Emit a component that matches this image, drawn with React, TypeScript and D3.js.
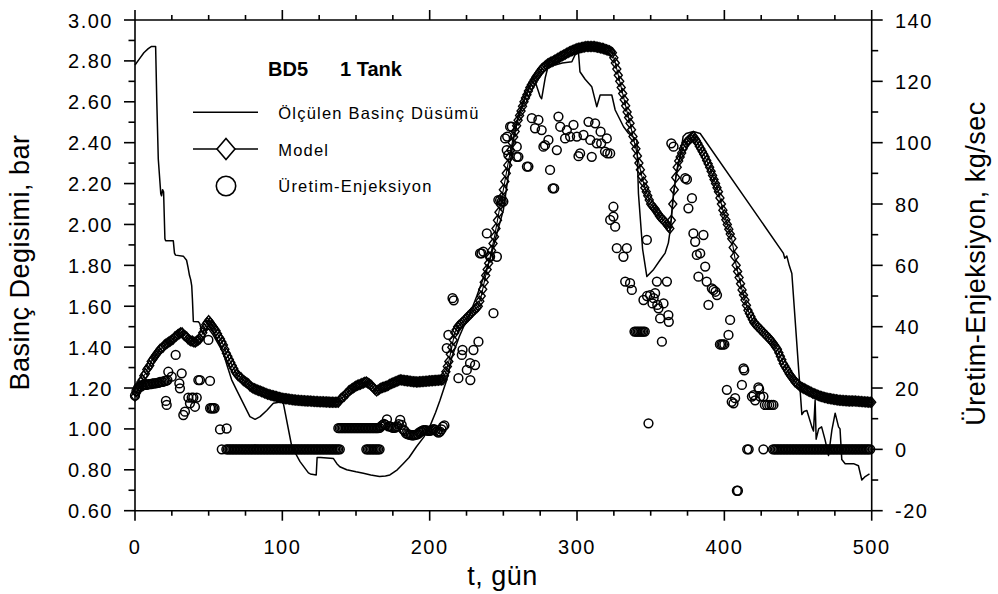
import React from 'react';
import * as d3 from 'd3';

// ---------- axis ticks ----------
const xMajorTicks = [0, 100, 200, 300, 400, 500];
const leftMajorTicks = [0.6, 0.8, 1.0, 1.2, 1.4, 1.6, 1.8, 2.0, 2.2, 2.4, 2.6, 2.8, 3.0];
const rightMajorTicks = [-20, 0, 20, 40, 60, 80, 100, 120, 140];

// ---------- measured pressure drop (t [day], bar) ----------
const measured: [number, number][] = [
  [0, 2.78], [3, 2.81], [6, 2.84], [9, 2.86], [11, 2.87], [14, 2.87], [14.8, 2.6], [15.8, 2.32],
  [17.5, 2.15], [18, 2.14], [18.7, 2.17], [19.4, 2.16], [20.3, 1.93], [20.8, 1.92], [26, 1.92],
  [26.8, 1.86], [27.5, 1.85], [32.8, 1.845], [35, 1.825], [36, 1.79], [37, 1.75], [37.8, 1.73],
  [38.5, 1.7], [39, 1.63], [39.6, 1.525], [43, 1.524], [44, 1.515], [45.3, 1.475], [47, 1.48],
  [50, 1.49], [53, 1.46], [57, 1.41], [60, 1.37], [62.5, 1.31], [65.6, 1.24], [69, 1.19],
  [73.5, 1.125], [78, 1.06], [81.5, 1.047], [84.9, 1.06], [89.4, 1.09], [93.9, 1.125], [99.6, 1.133],
  [100.7, 1.125], [106.4, 0.914], [112, 0.84], [117.7, 0.785], [119, 0.78], [123, 0.775],
  [123.6, 0.86], [126, 0.86], [134.7, 0.855], [137, 0.83], [139, 0.815], [143.7, 0.8], [150, 0.79],
  [155, 0.783], [160, 0.775], [166, 0.767], [170, 0.77], [173, 0.775], [178, 0.8], [182, 0.83],
  [186, 0.86], [191, 0.913], [196, 0.96], [200, 1.01], [204, 1.08], [207, 1.14], [211.6, 1.24],
  [215, 1.35], [220, 1.45], [223, 1.5], [227.4, 1.566], [232, 1.65], [236, 1.73], [241, 1.83],
  [245, 1.94], [250, 2.07], [254.6, 2.3], [257, 2.42], [260, 2.53], [265, 2.63], [270.5, 2.723],
  [275, 2.625], [276, 2.615], [278.5, 2.72], [281.7, 2.81], [285.1, 2.78], [290, 2.79],
  [296.5, 2.796], [298.7, 2.83], [301, 2.84], [302, 2.747], [305.5, 2.71], [310, 2.674],
  [313.4, 2.576], [315.7, 2.633], [323.6, 2.633], [325.9, 2.56], [331.6, 2.478], [334.9, 2.446],
  [340.6, 2.413], [341.7, 2.15], [344.5, 1.88], [347.4, 1.745], [352, 1.78], [356.4, 1.826],
  [359.8, 1.86], [362, 1.91], [363.2, 1.97], [365.4, 2.15], [367.5, 2.25], [370, 2.33],
  [372, 2.43], [374, 2.445], [379, 2.455], [383.6, 2.445], [440, 1.86], [441, 1.835],
  [442.4, 1.845], [444, 1.8], [445.8, 1.76], [452.6, 1.07], [454, 1.085], [456, 1.09],
  [459.4, 1.01], [460.5, 0.99], [461.6, 1.14], [462.3, 0.95], [464, 1.0], [466, 1.01],
  [468.4, 0.945], [470.7, 0.87], [473, 0.995], [475.2, 1.077], [477.5, 1.01], [478.5, 1.0],
  [479.7, 0.85], [482, 0.83], [487.7, 0.83], [491, 0.82], [493.3, 0.75], [495.6, 0.767],
  [498.5, 0.78],
];

// ---------- model (one value per day, t = 0..500, bar) ----------
const modelDaily = [
  1.16, 1.18, 1.19, 1.21, 1.23, 1.24, 1.26, 1.27, 1.29, 1.30,
  1.31, 1.33, 1.34, 1.35, 1.36, 1.37, 1.38, 1.39, 1.395, 1.40,
  1.41, 1.415, 1.42, 1.425, 1.43, 1.435, 1.44, 1.45, 1.455, 1.46,
  1.465, 1.47, 1.47, 1.46, 1.455, 1.45, 1.44, 1.435, 1.43, 1.43,
  1.425, 1.425, 1.43, 1.435, 1.44, 1.455, 1.47, 1.49, 1.51, 1.52,
  1.53, 1.52, 1.51, 1.50, 1.49, 1.48, 1.465, 1.45, 1.44, 1.425,
  1.41, 1.39, 1.37, 1.355, 1.34, 1.325, 1.31, 1.295, 1.28, 1.27,
  1.26, 1.255, 1.25, 1.24, 1.235, 1.23, 1.225, 1.22, 1.21, 1.205,
  1.20, 1.197, 1.194, 1.19, 1.188, 1.185, 1.182, 1.179, 1.176, 1.173,
  1.17, 1.168, 1.166, 1.164, 1.162, 1.16, 1.158, 1.156, 1.154, 1.152,
  1.15, 1.149, 1.148, 1.147, 1.146, 1.145, 1.144, 1.143, 1.142, 1.141,
  1.14, 1.14, 1.139, 1.139, 1.138, 1.138, 1.137, 1.137, 1.136, 1.136,
  1.135, 1.135, 1.134, 1.134, 1.134, 1.133, 1.133, 1.133, 1.133, 1.132,
  1.132, 1.132, 1.131, 1.131, 1.131, 1.13, 1.13, 1.13, 1.13, 1.14,
  1.15, 1.155, 1.16, 1.17, 1.175, 1.185, 1.19, 1.195, 1.20, 1.205,
  1.21, 1.213, 1.216, 1.219, 1.222, 1.225, 1.228, 1.23, 1.225, 1.22,
  1.215, 1.207, 1.20, 1.192, 1.185, 1.19, 1.195, 1.20, 1.203, 1.205,
  1.207, 1.21, 1.214, 1.218, 1.222, 1.225, 1.228, 1.231, 1.234, 1.237,
  1.24, 1.239, 1.238, 1.237, 1.236, 1.235, 1.234, 1.233, 1.232, 1.231,
  1.231, 1.23, 1.23, 1.231, 1.231, 1.232, 1.232, 1.233, 1.233, 1.234,
  1.235, 1.236, 1.236, 1.237, 1.237, 1.238, 1.238, 1.239, 1.239, 1.24,
  1.26, 1.28, 1.305, 1.33, 1.365, 1.40, 1.435, 1.47, 1.485, 1.50,
  1.507, 1.513, 1.52, 1.527, 1.535, 1.542, 1.55, 1.557, 1.565, 1.572,
  1.58, 1.587, 1.593, 1.60, 1.625, 1.65, 1.683, 1.717, 1.75, 1.78,
  1.81, 1.84, 1.873, 1.907, 1.94, 1.98, 2.02, 2.06, 2.097, 2.133,
  2.17, 2.21, 2.25, 2.29, 2.327, 2.363, 2.40, 2.428, 2.455, 2.483,
  2.51, 2.533, 2.555, 2.578, 2.60, 2.618, 2.635, 2.653, 2.67, 2.683,
  2.695, 2.708, 2.72, 2.73, 2.74, 2.75, 2.76, 2.766, 2.773, 2.779,
  2.785, 2.789, 2.793, 2.796, 2.80, 2.804, 2.808, 2.813, 2.817, 2.821,
  2.825, 2.829, 2.833, 2.837, 2.841, 2.845, 2.848, 2.851, 2.854, 2.857,
  2.86, 2.862, 2.863, 2.865, 2.867, 2.868, 2.87, 2.87, 2.87, 2.87,
  2.87, 2.87, 2.87, 2.868, 2.867, 2.865, 2.863, 2.862, 2.86, 2.857,
  2.855, 2.852, 2.85, 2.845, 2.84, 2.815, 2.79, 2.76, 2.73, 2.70,
  2.67, 2.64, 2.61, 2.58, 2.55, 2.523, 2.495, 2.463, 2.43, 2.40,
  2.37, 2.335, 2.30, 2.268, 2.235, 2.208, 2.18, 2.16, 2.14, 2.12,
  2.10, 2.092, 2.083, 2.075, 2.063, 2.052, 2.04, 2.033, 2.025, 2.018,
  2.01, 2.00, 1.99, 1.98, 2.02, 2.10, 2.17, 2.23, 2.28, 2.31,
  2.33, 2.35, 2.37, 2.385, 2.40, 2.407, 2.413, 2.42, 2.425, 2.43,
  2.42, 2.41, 2.397, 2.383, 2.37, 2.357, 2.343, 2.33, 2.313, 2.297,
  2.28, 2.26, 2.24, 2.22, 2.20, 2.18, 2.16, 2.13, 2.10, 2.07,
  2.047, 2.023, 2.00, 1.977, 1.953, 1.93, 1.887, 1.843, 1.80, 1.77,
  1.74, 1.71, 1.68, 1.655, 1.63, 1.605, 1.58, 1.565, 1.55, 1.535,
  1.52, 1.513, 1.505, 1.498, 1.49, 1.483, 1.475, 1.468, 1.46, 1.453,
  1.445, 1.438, 1.43, 1.42, 1.41, 1.40, 1.39, 1.373, 1.355, 1.338,
  1.32, 1.308, 1.295, 1.283, 1.27, 1.26, 1.25, 1.24, 1.23, 1.224,
  1.218, 1.211, 1.205, 1.201, 1.198, 1.194, 1.19, 1.186, 1.183, 1.179,
  1.175, 1.172, 1.169, 1.166, 1.163, 1.16, 1.158, 1.156, 1.154, 1.152,
  1.15, 1.149, 1.148, 1.146, 1.145, 1.144, 1.143, 1.141, 1.14, 1.14,
  1.139, 1.139, 1.138, 1.138, 1.137, 1.137, 1.137, 1.136, 1.136, 1.136,
  1.135, 1.135, 1.134, 1.134, 1.133, 1.133, 1.132, 1.132, 1.131, 1.131, 1.13,
];

// ---------- production-injection (kg/sec), daily runs: first day + values ----------
const prodEarlyStart = 0;
const prodEarly = [17.5, 19, 20, 20.5, 20.5, 21, 21, 21, 21, 21.3, 21.3, 21.3, 21.5, 21.5, 21.5, 21.7, 21.7, 22, 22, 22, 22.3, 22.3, 22.6];
const prodZeroAStart = 62;
const prodZeroA = [
  0, 0, 0, 0, 0, 0, 0, 0, 0, 0, 0, 0, 0, 0, 0, 0, 0, 0, 0, 0,
  0, 0, 0, 0, 0, 0, 0, 0, 0, 0, 0, 0, 0, 0, 0, 0, 0, 0, 0, 0,
  0, 0, 0, 0, 0, 0, 0, 0, 0, 0, 0, 0, 0, 0, 0, 0, 0, 0, 0, 0,
  0, 0, 0, 0, 0, 0, 0, 0, 0, 0, 0, 0, 0, 0, 0, 0, 0, 0,
];
const prodLowStart = 138;
const prodLow = [6.9, 6.9, 6.9, 6.9, 6.9, 6.9, 6.9, 6.9, 6.9, 6.9, 6.9, 6.9, 6.9, 6.9, 6.9, 6.9, 6.9, 6.9, 6.9, 6.9, 6.9, 6.9, 6.9, 6.9, 6.9, 6.9, 6.9];
const prodZeroBStart = 157;
const prodZeroB = [0, 0, 0, 0, 0, 0, 0, 0, 0, 0];
const prodWaveStart = 165;
const prodWave = [
  6.9, 7.0, 7.5, 7.9, 8.3, 8.0, 9.8, 7.5, 7.5, 7.3,
  7.0, 7.0, 7.2, 7.5, 8.2, 9.6, 8.0, 6.5, 6.0, 5.2,
  5.0, 4.8, 4.7, 4.6, 4.6, 4.7, 4.8, 5.0, 5.5, 5.8,
  6.1, 6.3, 6.3, 6.2, 6.0, 6.0, 6.2, 6.5, 6.6, 6.3,
  5.8, 5.5, 5.8, 6.5, 7.4, 7.8,
];
const prodZeroCStart = 433;
const prodZeroC = [
  0, 0, 0, 0, 0, 0, 0, 0, 0, 0, 0, 0, 0, 0, 0, 0, 0, 0, 0, 0,
  0, 0, 0, 0, 0, 0, 0, 0, 0, 0, 0, 0, 0, 0, 0, 0, 0, 0, 0, 0,
  0, 0, 0, 0, 0, 0, 0, 0, 0, 0, 0, 0, 0, 0, 0, 0, 0, 0, 0, 0,
  0, 0, 0, 0, 0, 0, 0,
];

// scattered production-injection readings (t [day], kg/sec)
const prodScatter: [number, number][] = [
  [21, 15.8], [21.5, 14.5], [22.6, 25.3], [24.9, 23.7], [27.6, 30.8], [30.1, 21.5], [30.5, 19.9],
  [31.7, 24.8], [32.8, 11.2], [33.9, 12.3], [36.2, 16.9], [37.3, 15.0], [38.5, 16.9], [39.6, 16.9],
  [40.7, 13.9], [41.9, 16.9], [43.0, 22.6], [44.1, 22.6], [49.8, 35.7], [50.9, 22.3], [51, 13.4],
  [52, 13.4], [53, 13.4], [54, 13.4], [57.7, 6.5], [58.9, 0], [62.2, 6.8],
  [211.6, 33.0], [212.7, 37.3], [215.5, 49.3], [216.3, 48.6], [219.5, 23.2], [221.8, 30.8],
  [222.3, 32.4], [225.2, 25.9], [227.4, 28.1], [227.6, 22.6], [229.7, 32.4], [230.8, 27.5],
  [233.1, 35.1], [234.2, 63.9], [235.2, 63.9], [236.4, 64.5], [238.8, 70.4], [241.0, 62.8],
  [243.3, 44.4], [245.6, 62.8], [246.6, 81.3], [247.8, 81.3], [248.9, 80.8], [250.0, 80.8],
  [251.2, 101.4], [252.3, 97.6], [252.6, 102], [253.4, 96.0], [254.6, 105.2], [255.7, 105.2],
  [259.1, 98.7], [259.1, 95.4], [260.2, 95.4], [266.0, 92.2], [267.0, 92.2],
  [269.3, 108], [271.5, 104.7], [273.8, 107.4], [276, 104.1], [277.2, 98.7], [278.3, 99.2],
  [280.6, 100.9], [281.7, 91.1], [283.5, 85.1], [284.5, 85.1], [286.3, 97.6], [287.4, 108.5],
  [288.6, 105.2], [291.9, 101.4], [293.1, 104.1], [295.3, 102], [297.6, 105.8], [299.9, 102],
  [301, 95.6], [302.1, 96.5], [304.4, 102.5], [307.8, 106.8], [309, 100.9], [310, 95.4],
  [312.3, 106.3], [313.4, 99.8], [316, 103.6], [316.4, 99.8], [319, 97.1], [320.2, 101.4],
  [320.6, 96.5], [322.5, 96.5],
  [322.5, 74.8], [324.7, 79.1], [324.7, 75.9], [325.9, 72.6], [327, 65.6], [331.5, 62.8],
  [333.8, 65.6], [332.7, 54.7], [336, 54.2], [337.2, 52], [339, 38.4], [340, 38.4], [341, 38.4],
  [342, 38.4], [343, 38.4], [344, 38.4], [345, 38.4], [346, 38.4], [345.1, 48.7], [347.4, 68.3],
  [347.5, 50], [348.5, 8.5], [349.6, 50.3], [351.2, 47.6], [352, 49.3], [353, 50.9], [354.2, 54.7],
  [354.5, 47.1], [355.3, 46], [356.4, 42.7], [357.6, 35.1], [358.7, 47.6], [361, 54.7], [362, 43.8],
  [362.3, 41.6], [364, 99.8], [365.5, 98.7], [373.4, 88.4], [374.6, 88], [375.6, 78.6],
  [378, 81.9], [379, 70.4], [380.2, 67.7], [381.3, 63.4], [382.4, 56.3], [383.6, 63.9],
  [385.8, 69.9], [387, 59.6], [388, 54.7], [389.2, 47.1], [391.5, 52.5], [392.6, 52],
  [394, 51.4], [395, 50.3], [397, 34.2], [398, 34.2], [399, 34.2], [400, 34.2],
  [401.7, 19.4], [402.8, 37.3], [403.9, 42.2], [405, 15.5], [406.2, 15], [407.3, 16.7],
  [408.5, -13.5], [409.2, -13.5], [411.9, 21], [413, 26.4], [413.5, 25.8], [415.5, 0], [416.5, 0],
  [418.7, 17.2], [419.8, 17.7], [420.9, 16], [423.1, 20.2], [423.6, 19.6], [424.3, 17.2],
  [426.5, 0], [426.5, 17.2], [427.5, 14.5], [429, 14.5], [430.5, 14.5], [432, 14.5], [433.3, 14.5],
];

const prodRuns: [number, number[]][] = [
  [prodEarlyStart, prodEarly],
  [prodZeroAStart, prodZeroA],
  [prodLowStart, prodLow],
  [prodZeroBStart, prodZeroB],
  [prodWaveStart, prodWave],
  [prodZeroCStart, prodZeroC],
];

const FONT = "'Liberation Sans', Arial, Helvetica, sans-serif";

function diamond(cx: number, cy: number, hw: number, hh: number) {
  return `M${cx},${cy - hh}L${cx + hw},${cy}L${cx},${cy + hh}L${cx - hw},${cy}Z`;
}

export default function App() {
  const left = 135, right = 871.7, top = 20, bottom = 510.7;
  const x = d3.scaleLinear().domain([0, 500]).range([left, right]);
  const yL = d3.scaleLinear().domain([0.6, 3.0]).range([bottom, top]);
  const yR = d3.scaleLinear().domain([-20, 140]).range([bottom, top]);

  const modelPts: [number, number][] = modelDaily.map((v, i) => [i, v]);
  const lineL = d3.line<[number, number]>().x(d => x(d[0])).y(d => yL(d[1]));

  const prodPts: [number, number][] = [];
  prodRuns.forEach(([start, vals]) => vals.forEach((v, i) => prodPts.push([start + i, v])));
  prodScatter.forEach(p => prodPts.push(p));

  const xMinor = d3.range(0, 501, 25).filter(v => !xMajorTicks.includes(v));
  const lMinor = leftMajorTicks.slice(0, -1).map(v => v + 0.1);
  const rMinor = rightMajorTicks.slice(0, -1).map(v => v + 10);

  const axisW = 1.6;

  return (
    <svg width={998} height={594} style={{ position: 'absolute', left: 0, top: 0, background: '#fff' }} fontFamily={FONT}>
      <rect x={0} y={0} width={998} height={594} fill="#fff" />

      {/* model line + diamonds */}
      <path d={lineL(modelPts) || ''} fill="none" stroke="#000" strokeWidth={1.1} />
      {modelPts.map((d, i) => (
        <path key={'m' + i} d={diamond(x(d[0]), yL(d[1]), 4, 4.9)} fill="none" stroke="#000" strokeWidth={1.4} />
      ))}

      {/* measured line */}
      <path d={lineL(measured) || ''} fill="none" stroke="#000" strokeWidth={1.5} strokeLinejoin="round" />

      {/* production-injection circles */}
      {prodPts.map((d, i) => (
        <circle key={'p' + i} cx={x(d[0])} cy={yR(d[1])} r={4.4} fill="none" stroke="#000" strokeWidth={1.5} />
      ))}

      {/* frame */}
      <line x1={left} x2={left} y1={top} y2={bottom} stroke="#000" strokeWidth={axisW} />
      <line x1={right} x2={right} y1={top} y2={bottom} stroke="#000" strokeWidth={axisW} />
      <line x1={left} x2={right} y1={top} y2={top} stroke="#000" strokeWidth={axisW} />
      <line x1={left} x2={right} y1={bottom} y2={bottom} stroke="#000" strokeWidth={axisW} />

      {/* x ticks (bottom & top, outward) */}
      {xMajorTicks.map(v => (
        <g key={'xM' + v}>
          <line x1={x(v)} x2={x(v)} y1={bottom} y2={bottom + 10} stroke="#000" strokeWidth={axisW} />
          <line x1={x(v)} x2={x(v)} y1={top} y2={top - 10} stroke="#000" strokeWidth={axisW} />
          <text x={x(v)} y={554} textAnchor="middle" fontSize={20} letterSpacing={1.5}>{v}</text>
        </g>
      ))}
      {xMinor.map(v => (
        <g key={'xm' + v}>
          <line x1={x(v)} x2={x(v)} y1={bottom} y2={bottom + 5} stroke="#000" strokeWidth={axisW} />
          <line x1={x(v)} x2={x(v)} y1={top} y2={top - 5} stroke="#000" strokeWidth={axisW} />
        </g>
      ))}

      {/* left ticks */}
      {leftMajorTicks.map(v => (
        <g key={'lM' + v}>
          <line x1={left - 11} x2={left} y1={yL(v)} y2={yL(v)} stroke="#000" strokeWidth={axisW} />
          <text x={113} y={yL(v) + 7.5} textAnchor="end" fontSize={20} letterSpacing={1.5}>{v.toFixed(2)}</text>
        </g>
      ))}
      {lMinor.map(v => (
        <line key={'lm' + v} x1={left - 6.5} x2={left} y1={yL(v)} y2={yL(v)} stroke="#000" strokeWidth={axisW} />
      ))}

      {/* right ticks */}
      {rightMajorTicks.map(v => (
        <g key={'rM' + v}>
          <line x1={right} x2={right + 11} y1={yR(v)} y2={yR(v)} stroke="#000" strokeWidth={axisW} />
          <text x={895} y={yR(v) + 7.5} textAnchor="start" fontSize={20} letterSpacing={1.5}>{v}</text>
        </g>
      ))}
      {rMinor.map(v => (
        <line key={'rm' + v} x1={right} x2={right + 6.5} y1={yR(v)} y2={yR(v)} stroke="#000" strokeWidth={axisW} />
      ))}

      {/* axis titles */}
      <text transform="translate(29,262.5) rotate(-90)" textAnchor="middle" fontSize={27} letterSpacing={0.5}>Basinç Degisimi, bar</text>
      <text transform="translate(985,263.5) rotate(-90)" textAnchor="middle" fontSize={27} letterSpacing={0.5}>Üretim-Enjeksiyon, kg/sec</text>
      <text x={502.5} y={585} textAnchor="middle" fontSize={27} letterSpacing={0.5}>t, gün</text>

      {/* legend */}
      <text x={268} y={76} fontSize={20} fontWeight="bold">BD5</text>
      <text x={340} y={76} fontSize={20} fontWeight="bold">1 Tank</text>

      <line x1={193} x2={258} y1={112.3} y2={112.3} stroke="#000" strokeWidth={1.6} />
      <text x={278.3} y={119} fontSize={16.5} letterSpacing={1.2}>Ölçülen Basinç Düsümü</text>

      <line x1={193} x2={258} y1={149} y2={149} stroke="#000" strokeWidth={1.6} />
      <path d={diamond(226, 149, 9, 10.5)} fill="#fff" stroke="#000" strokeWidth={1.6} />
      <text x={278.3} y={155.7} fontSize={16.5} letterSpacing={1.2}>Model</text>

      <circle cx={226} cy={186} r={9.7} fill="none" stroke="#000" strokeWidth={1.6} />
      <text x={278.3} y={192} fontSize={16.5} letterSpacing={1.2}>Üretim-Enjeksiyon</text>
    </svg>
  );
}
